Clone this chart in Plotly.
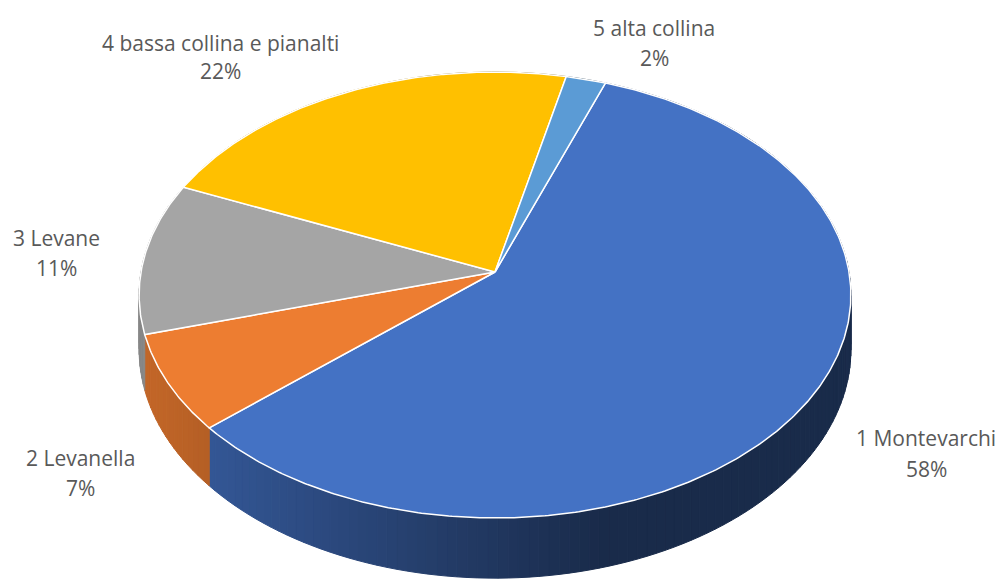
import math
import plotly.graph_objects as go

# ---- data ----
names = ["1 Montevarchi", "2 Levanella", "3 Levane", "4 bassa collina e pianalti", "5 alta collina"]
values = [58, 7, 11, 22, 2]
colors = ["#4472C4", "#ED7D31", "#A5A5A5", "#FFC000", "#5B9BD5"]

# ---- geometry (layout, pixel space of the page) ----
W, H = 1003, 581
OFF = 8             # default page body margin
CX, CY = 495.0, 272.0
RX, RY = 354.0, 220.6
K = 0.1031          # perspective factor
T = 54.0            # thickness
START = 20.0        # first slice angle (deg, clockwise from 12 o'clock)

label_pos = [(926, 438, 469), (80, 458, 488), (56, 238, 268), (220, 43, 71), (654, 28, 58)]


def proj(phi_deg, r=1.0, drop=0.0):
    p = math.radians(phi_deg)
    u = r * math.sin(p)
    v = r * math.cos(p)
    w = 1 + K * v
    return CX + RX * u / w, CY - RY * v / w + drop / w


def hex2rgb(h):
    h = h.lstrip('#')
    return tuple(int(h[i:i + 2], 16) for i in (0, 2, 4))


total = sum(values)
bounds = []
a = START
for v in values:
    span = 360.0 * v / total
    bounds.append((a, a + span))
    a += span

fig = go.Figure()

# ---- side walls (drawn first, covered by top faces) ----
STEP = 1.5
for (a0, a1), col in zip(bounds, colors):
    rgb = hex2rgb(col)
    n = max(1, int(math.ceil((a1 - a0) / STEP)))
    for i in range(n):
        s0 = a0 + (a1 - a0) * i / n
        s1 = a0 + (a1 - a0) * (i + 1) / n
        angs = [s0 + (s1 - s0) * j / 4 for j in range(5)]
        top = [proj(t) for t in angs]
        bot = [proj(t, drop=T) for t in reversed(angs)]
        pts = top + bot + [top[0]]
        xm = sum(p[0] for p in top) / len(top)
        tt = min(1.0, max(0.0, (xm - 150) / (600 - 150)))
        f = 0.82 + (0.38 - 0.82) * tt
        c = "rgb(%d,%d,%d)" % tuple(int(ch * f) for ch in rgb)
        fig.add_trace(go.Scatter(
            x=[p[0] for p in pts], y=[p[1] for p in pts],
            fill="toself", fillcolor=c, mode="lines",
            line=dict(color=c, width=1.0), hoverinfo="skip", showlegend=False))

# ---- top faces ----
for (a0, a1), col in zip(bounds, colors):
    n = max(2, int((a1 - a0) / 0.5))
    pts = [(CX, CY)] + [proj(a0 + (a1 - a0) * j / n) for j in range(n + 1)] + [(CX, CY)]
    fig.add_trace(go.Scatter(
        x=[p[0] for p in pts], y=[p[1] for p in pts],
        fill="toself", fillcolor=col, mode="lines",
        line=dict(color="white", width=1.5), hoverinfo="skip", showlegend=False))

# ---- labels ----
FONT = dict(family="Open Sans", size=21, color="#595959")
for name, val, (lx, ly1, ly2) in zip(names, values, label_pos):
    fig.add_annotation(x=lx, y=ly1, text=name, showarrow=False, xanchor="center", yanchor="middle", font=FONT)
    fig.add_annotation(x=lx, y=ly2, text=f"{val}%", showarrow=False, xanchor="center", yanchor="middle", font=FONT)

fig.update_layout(
    width=W - OFF, height=H - OFF, margin=dict(l=0, r=0, t=0, b=0),
    paper_bgcolor="white", plot_bgcolor="white",
    xaxis=dict(range=[OFF, W], visible=False, fixedrange=True),
    yaxis=dict(range=[H, OFF], visible=False, fixedrange=True),
    showlegend=False,
)

fig.write_html("out.html")
